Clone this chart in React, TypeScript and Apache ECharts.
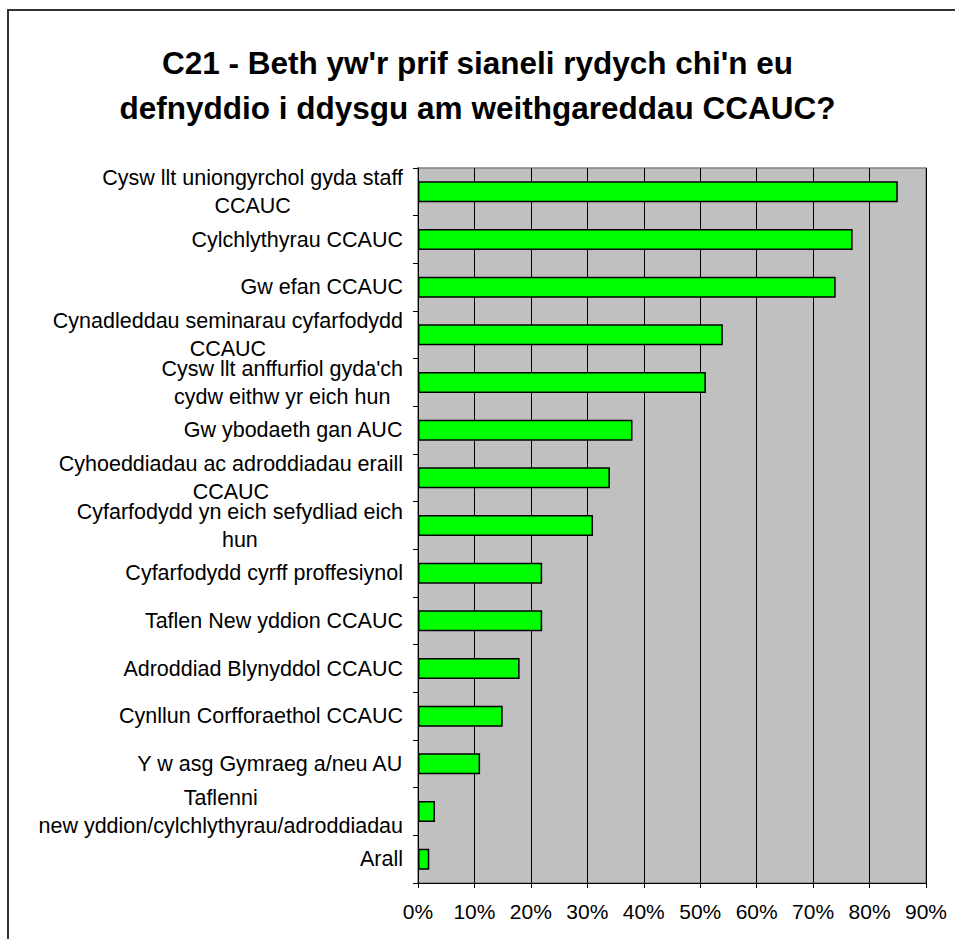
import React, { useEffect, useRef } from "react";
import * as echarts from "echarts";

const titleLines = [
  "C21 - Beth yw'r prif sianeli rydych chi'n eu",
  "defnyddio i ddysgu am weithgareddau CCAUC?",
];

const categories = [
  "Cysw llt uniongyrchol gyda staff\nCCAUC",
  "Cylchlythyrau CCAUC",
  "Gw efan CCAUC",
  "Cynadleddau seminarau cyfarfodydd\nCCAUC",
  "Cysw llt anffurfiol gyda'ch\ncydw eithw yr eich hun",
  "Gw ybodaeth gan AUC",
  "Cyhoeddiadau ac adroddiadau eraill\nCCAUC",
  "Cyfarfodydd yn eich sefydliad eich\nhun",
  "Cyfarfodydd cyrff proffesiynol",
  "Taflen New yddion CCAUC",
  "Adroddiad Blynyddol CCAUC",
  "Cynllun Corfforaethol CCAUC",
  "Y w asg Gymraeg a/neu AU",
  "Taflenni\nnew yddion/cylchlythyrau/adroddiadau",
  "Arall",
];

const values = [85, 77, 74, 54, 51, 38, 34, 31, 22, 22, 18, 15, 11, 3, 2];

const xTicks = { min: 0, max: 90, interval: 10 };

const FONT = "'Liberation Sans', Arial, sans-serif";

export default function App() {
  const ref = useRef<HTMLDivElement>(null);

  useEffect(() => {
    if (!ref.current) return;
    const chart = echarts.init(ref.current, undefined, { renderer: "svg" });
    chart.setOption({
      animation: false,
      backgroundColor: "#ffffff",
      title: {
        text: titleLines.join("\n"),
        left: "center",
        top: 35,
        textStyle: {
          fontFamily: FONT,
          fontSize: 31.5,
          fontWeight: "bold",
          color: "#000000",
          lineHeight: 45,
        },
      },
      graphic: [
        {
          type: "polyline",
          shape: { points: [[8, 939], [8, 10], [955, 10]] },
          style: { stroke: "#333333", lineWidth: 2, fill: "none" },
          silent: true,
        },
      ],
      grid: {
        left: 418,
        top: 168,
        width: 508,
        height: 715,
        show: true,
        backgroundColor: "#C0C0C0",
        borderColor: "#808080",
        borderWidth: 1.5,
      },
      xAxis: {
        type: "value",
        min: xTicks.min,
        max: xTicks.max,
        interval: xTicks.interval,
        axisLine: { show: true, lineStyle: { color: "#000000", width: 1 } },
        axisTick: { show: true, length: 5, lineStyle: { color: "#000000" } },
        splitLine: { show: true, lineStyle: { color: "#000000", width: 1 } },
        axisLabel: {
          formatter: "{value}%",
          fontFamily: FONT,
          fontSize: 21,
          color: "#000000",
          margin: 18,
        },
      },
      yAxis: {
        type: "category",
        inverse: true,
        data: categories,
        axisLine: { show: true, lineStyle: { color: "#000000", width: 1 } },
        axisTick: { show: true, length: 5, lineStyle: { color: "#000000" } },
        splitLine: { show: false },
        axisLabel: {
          interval: 0,
          align: "right",
          margin: 15,
          fontFamily: FONT,
          fontSize: 21.5,
          color: "#000000",
          lineHeight: 28,
          formatter: (v: string) =>
            v
              .split("\n")
              .map((s) => `{c|${s}}`)
              .join("\n"),
          rich: {
            c: {
              align: "center",
              fontFamily: FONT,
              fontSize: 21.5,
              lineHeight: 28,
              color: "#000000",
            },
          },
        },
      },
      series: [
        {
          type: "bar",
          data: values,
          barWidth: 21,
          itemStyle: {
            color: "#00FF00",
            borderColor: "#000000",
            borderWidth: 1.5,
          },
        },
      ],
    });
    return () => chart.dispose();
  }, []);

  return (
    <div
      ref={ref}
      style={{ position: "absolute", left: 0, top: 0, width: 955, height: 939 }}
    />
  );
}
